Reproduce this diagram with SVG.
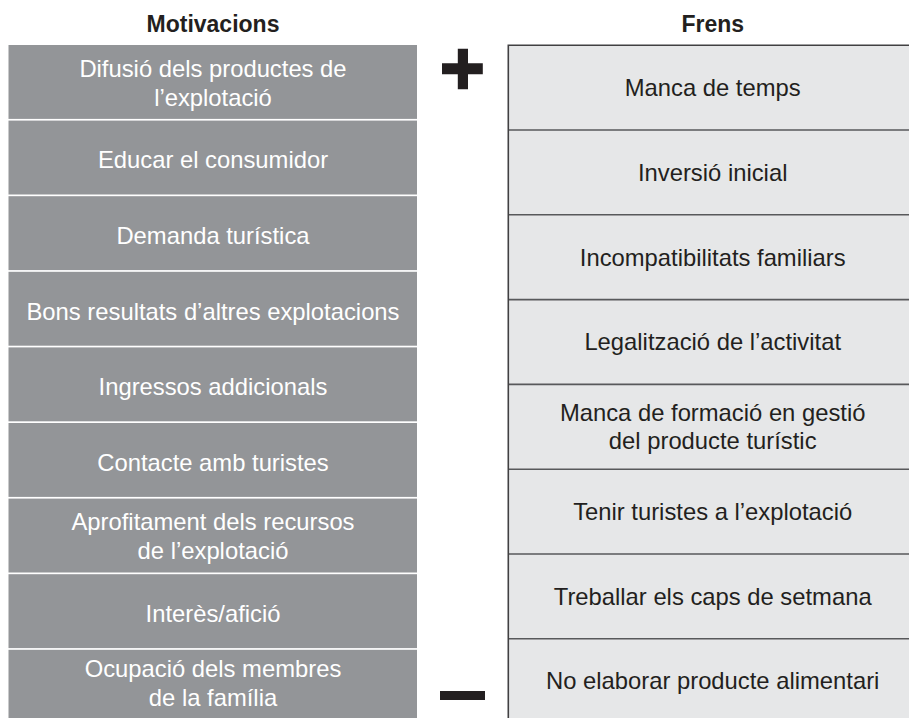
<svg xmlns="http://www.w3.org/2000/svg" width="909" height="718" viewBox="0 0 909 718">
<style>
  .hdr{font-family:"Liberation Sans",Arial,Helvetica,sans-serif;font-weight:bold;font-size:23px;fill:#231f20;text-anchor:middle}
  .mot rect{fill:#939598}
  .mot text{font-family:"Liberation Sans",Arial,Helvetica,sans-serif;font-size:23.8px;fill:#ffffff;text-anchor:middle}
  .fre rect{fill:#e6e7e8}
  .fre text{font-family:"Liberation Sans",Arial,Helvetica,sans-serif;font-size:23.8px;fill:#231f20;text-anchor:middle}
  .div{stroke:#58595b;stroke-width:1.6;fill:none}
  .edge{stroke:#414042;stroke-width:1.6;fill:none}
  .sign{fill:#231f20}
</style>
<rect x="0" y="0" width="909" height="718" fill="#ffffff"/>
<text class="hdr" x="213" y="32">Motivacions</text>
<text class="hdr" x="712.7" y="32">Frens</text>

<g id="motivacions" class="mot">
  <g id="m1"><rect x="8.5" y="45" width="408.5" height="73.9"/><text x="213" y="76.6">Difusió dels productes de</text><text x="213" y="105.6">l’explotació</text></g>
  <g id="m2"><rect x="8.5" y="120.6" width="408.5" height="73.9"/><text x="213" y="168.2">Educar el consumidor</text></g>
  <g id="m3"><rect x="8.5" y="196.2" width="408.5" height="73.9"/><text x="213" y="243.8">Demanda turística</text></g>
  <g id="m4"><rect x="8.5" y="271.8" width="408.5" height="73.9"/><text x="213" y="319.6">Bons resultats d’altres explotacions</text></g>
  <g id="m5"><rect x="8.5" y="347.4" width="408.5" height="73.9"/><text x="213" y="395">Ingressos addicionals</text></g>
  <g id="m6"><rect x="8.5" y="423" width="408.5" height="73.9"/><text x="213" y="470.6">Contacte amb turistes</text></g>
  <g id="m7"><rect x="8.5" y="498.6" width="408.5" height="73.9"/><text x="213" y="530">Aprofitament dels recursos</text><text x="213" y="559">de l’explotació</text></g>
  <g id="m8"><rect x="8.5" y="574.2" width="408.5" height="73.9"/><text x="213" y="621.8">Interès/afició</text></g>
  <g id="m9"><rect x="8.5" y="649.8" width="408.5" height="80"/><text x="213" y="677">Ocupació dels membres</text><text x="213" y="706">de la família</text></g>
</g>

<g id="frens" class="fre">
  <rect x="508" y="45" width="420" height="690"/>
  <g id="f1"><text x="712.7" y="96">Manca de temps</text></g>
  <g id="f2"><text x="712.7" y="180.8">Inversió inicial</text></g>
  <g id="f3"><text x="712.7" y="265.6">Incompatibilitats familiars</text></g>
  <g id="f4"><text x="712.7" y="350.4">Legalització de l’activitat</text></g>
  <g id="f5"><text x="712.7" y="421">Manca de formació en gestió</text><text x="712.7" y="449">del producte turístic</text></g>
  <g id="f6"><text x="712.7" y="520">Tenir turistes a l’explotació</text></g>
  <g id="f7"><text x="712.7" y="604.6">Treballar els caps de setmana</text></g>
  <g id="f8"><text x="712.7" y="689.4">No elaborar producte alimentari</text></g>
  <path class="div" d="M508 130H909M508 214.8H909M508 299.6H909M508 384.4H909M508 469.2H909M508 554H909M508 638.8H909"/>
  <path class="edge" d="M508.3 718V45.3H909"/>
</g>

<g id="scale">
  <path class="sign" d="M457.8 48.7H468V63.3H482.8V74.3H468V89.3H457.8V74.3H442V63.3H457.8Z"/>
  <rect class="sign" x="440" y="691" width="45" height="9"/>
</g>
</svg>
